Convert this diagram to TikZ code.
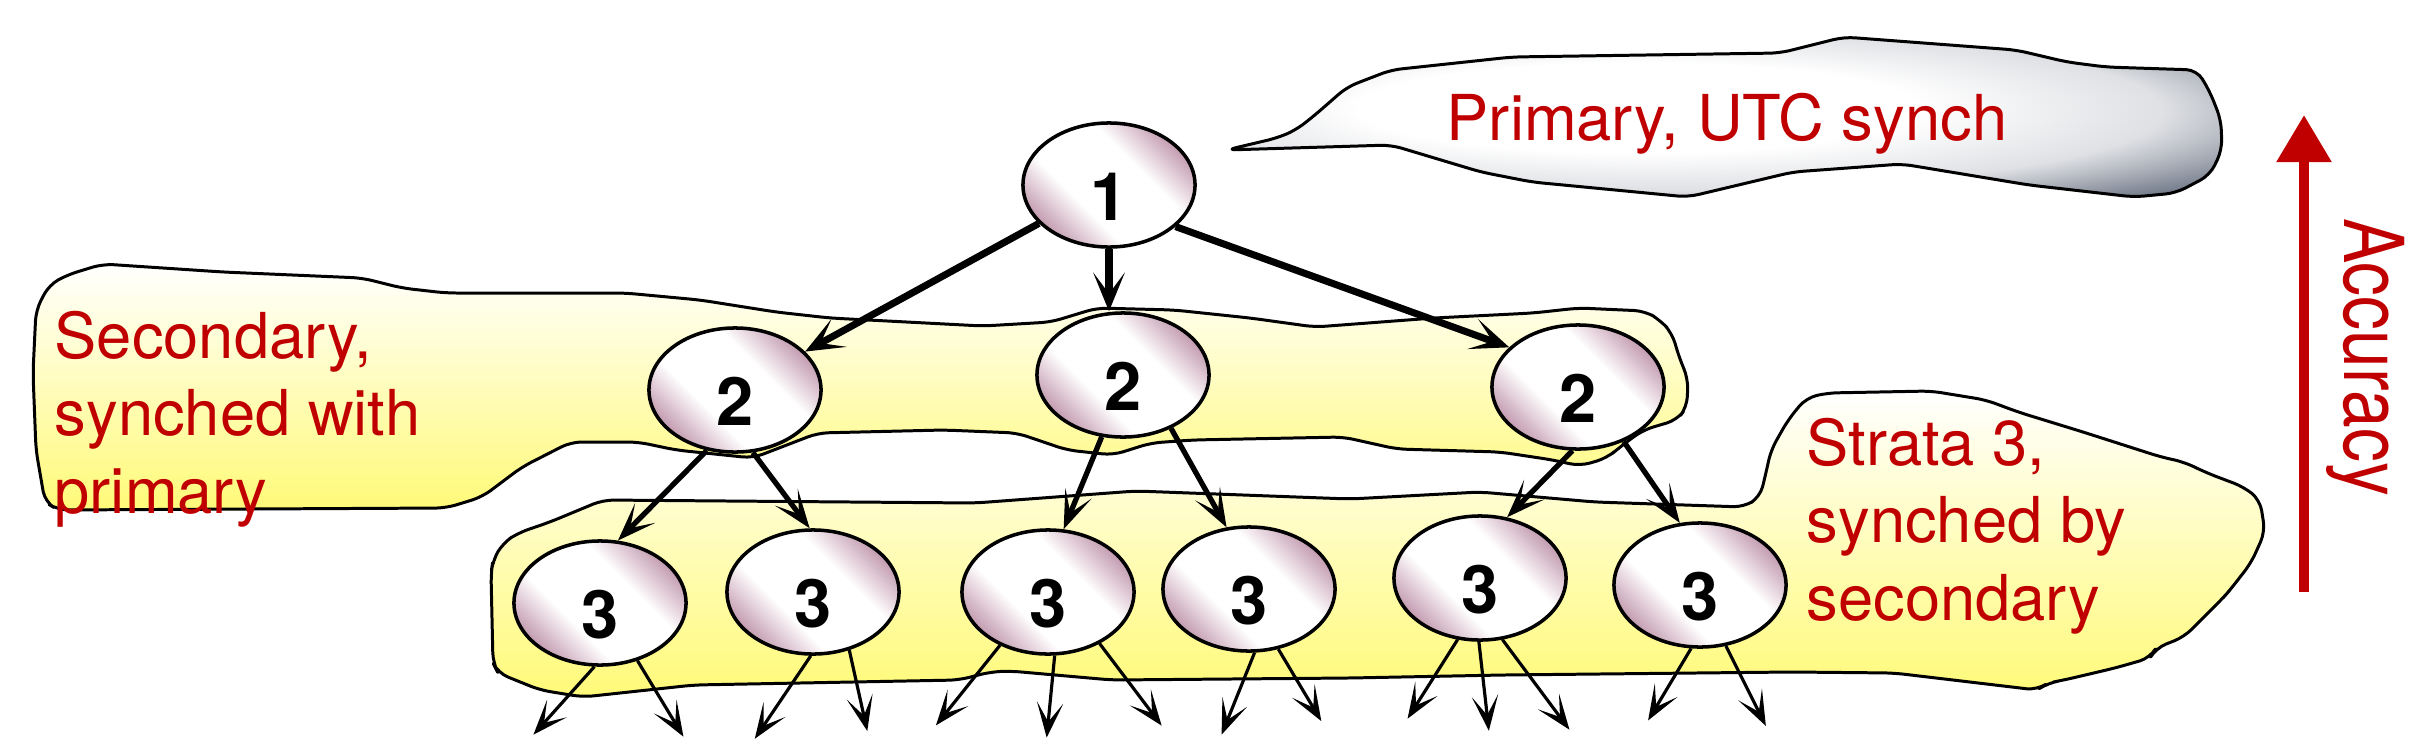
\documentclass[tikz,border=0pt]{standalone}
\usepackage{fontspec}
\setmainfont{TeX Gyre Heros}
\usepackage{graphicx}
\usetikzlibrary{arrows.meta,shapes.geometric}
\definecolor{crimson}{RGB}{192,0,0}
\definecolor{orbpink}{RGB}{192,150,172}
\definecolor{butter}{RGB}{255,250,120}
\definecolor{slate}{RGB}{75,85,105}
\pgfdeclarehorizontalshading{orbshade}{100bp}{color(0bp)=(orbpink); color(24bp)=(orbpink);
  color(39bp)=(white); color(61bp)=(white); color(76bp)=(orbpink); color(100bp)=(orbpink)}
\pgfdeclareradialshading{cloudshade}{\pgfpoint{-6bp}{4bp}}{color(0bp)=(white); color(14bp)=(white);
  color(25bp)=(slate!18); color(35bp)=(slate!80); color(50bp)=(slate)}
\tikzset{
  orb/.style={ellipse,draw,line width=1pt,shade,shading=orbshade,shading angle=45,
    minimum width=1.72cm,minimum height=1.24cm,inner sep=0pt,
    font=\fontsize{19}{19}\selectfont\bfseries,text height=20pt,text depth=0pt},
  band/.style={draw,line width=0.85pt,line join=round,rounded corners=3pt,
    top color=white,bottom color=butter},
  cloud/.style={draw,line width=0.85pt,line join=round,rounded corners=3pt,
    shade,shading=cloudshade},
  flow/.style={-{Stealth[length=11pt,width=9pt,inset=6pt]},line width=2pt},
  branch/.style={-{Stealth[length=11pt,width=8pt,inset=6pt]},line width=1.5pt},
  leaf/.style={-{Stealth[length=10pt,width=7.5pt,inset=5.5pt]},line width=0.9pt},
  tag/.style={text=crimson,inner sep=0pt,align=left,font=\fontsize{18}{22}\selectfont},
  gauge/.style={-{Triangle[length=13.4pt,width=15pt]},crimson,line width=2.85pt},
}

\begin{document}
\begin{tikzpicture}[x=0.01cm,y=-0.01cm]
  \useasboundingbox (0,0) rectangle (2423,742);
  % stratum 1 bubble
  \draw[cloud] (1226,150) -- (1277,138) -- (1296,130) -- (1315,115) -- (1347,87) -- (1391,70)
    -- (1512,57) -- (1780,53) -- (1844,37) -- (2016,50) -- (2067,62) -- (2106,67) -- (2197,70)
    -- (2210,92) -- (2221,120) -- (2222,150) -- (2210,175) -- (2176,193) -- (2134,197)
    -- (2029,185) -- (1902,164) -- (1793,172) -- (1688,197) -- (1532,182) -- (1481,172)
    -- (1391,145) -- cycle;
  % stratum 2 band
  \draw[band] (103,264) -- (223,272) -- (362,278) -- (402,288) -- (446,293) -- (625,293)
    -- (700,300) -- (776,312) -- (830,318) -- (983,326) -- (1051,322) -- (1074,315)
    -- (1097,308) -- (1174,310) -- (1250,318) -- (1315,327) -- (1434,318) -- (1533,313)
    -- (1579,308) -- (1645,311) -- (1660,320) -- (1672,333) -- (1680,360) -- (1688,378)
    -- (1687,407) -- (1677,420) -- (1643,430) -- (1620,447) -- (1607,458) -- (1580,466)
    -- (1553,460) -- (1500,452) -- (1397,449) -- (1343,437) -- (1193,440) -- (1151,443)
    -- (1113,455) -- (1067,450) -- (1017,433) -- (944,430) -- (818,433) -- (753,458)
    -- (676,450) -- (638,442) -- (571,442) -- (522,467) -- (482,497) -- (446,508)
    -- (58,510) -- (45,502) -- (36,450) -- (33,373) -- (36,310) -- (49,285) -- (67,275) -- cycle;
  % stratum 3 band
  \draw[band] (603,500) -- (975,503) -- (1136,491) -- (1350,499) -- (1480,492) -- (1595,502)
    -- (1744,507) -- (1760,497) -- (1765,477) -- (1771,450) -- (1788,420) -- (1806,398)
    -- (1827,393) -- (1931,391) -- (1986,400) -- (2018,412) -- (2083,432) -- (2161,457)
    -- (2184,462) -- (2207,473) -- (2244,487) -- (2260,500) -- (2265,532) -- (2251,563)
    -- (2230,590) -- (2223,598) -- (2184,637) -- (2156,648) -- (2150,658) -- (2115,668)
    -- (2064,680) -- (2048,683) -- (2037,690) -- (1995,685) -- (1894,673) -- (1792,672)
    -- (1503,675) -- (1350,678) -- (1112,680) -- (1010,671) -- (990,672) -- (959,680)
    -- (694,685) -- (583,697) -- (540,690) -- (498,673) -- (493,663) -- (491,573)
    -- (493,560) -- (503,543) -- (518,533) -- (550,522) -- cycle;
  % servers
  \node[orb] (n1) at (1109,185) {1};
  \foreach \i/\x/\y in {1/735/390,2/1123/375,3/1578/387}
    \node[orb] (s\i) at (\x,\y) {2};
  \foreach \i/\x/\y in {1/600/603,2/813/592,3/1048/592,4/1249/589,5/1480/578,6/1700/585}
    \node[orb] (t\i) at (\x,\y) {3};
  % synch arrows
  \draw[flow] (n1) -- (s1);
  \draw[flow] (n1.south) -- (n1.south |- s2.north);
  \draw[flow] (n1.-32) -- (s3.150);
  \foreach \a/\p/\b/\q in {s1/-115/t1/74,s1/-74/t2/93,s2/-109/t3/76,s2/-48/t4/110,
      s3/-95/t5/66,s3/-50/t6/108}
    \draw[branch] (\a.\p) -- (\b.\q);
  \foreach \a/\p/\dx/\dy in {t1/-95/-61/68,t1/-57/46/76,t2/-92/-56/83,t2/-58/18/81,
      t3/-132/-64/80,t3/-84/-8/82,t3/-45/62/82,t4/-85/-33/82,t4/-64/43/72,
      t5/-110/-50/79,t5/-91/10/89,t5/-70/67/90,t6/-98/-43/72,t6/-67/40/80}
    \draw[leaf] (\a.\p) -- ++(\dx,\dy);
  % labels
  \node[tag,anchor=base west] (lp) at (1446,140) {Primary, UTC synch};
  \node[tag,anchor=west] (ls) at (54,419) {Secondary,\\synched with\\primary};
  \node[tag,anchor=west] (lt) at (1806,526) {Strata 3,\\synched by\\secondary};
  % accuracy scale
  \coordinate (acclo) at (2304,592);
  \coordinate (acchi) at (2304,115);
  \draw[gauge] (acclo) -- (acchi);
  \node[tag,rotate=-90,font=\fontsize{23.5}{24}\selectfont] (la) at (2366,357)
    {\scalebox{0.82}[1]{Accuracy}};
\end{tikzpicture}
\end{document}
